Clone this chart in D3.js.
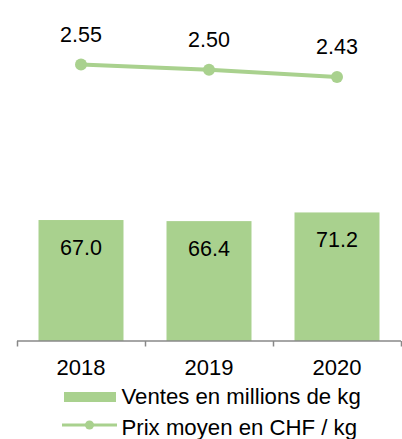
<!DOCTYPE html>
<html><head><meta charset="utf-8">
<script src="https://cdn.jsdelivr.net/npm/d3@7"></script>
<style>html,body{margin:0;padding:0;background:#fff;}svg{display:block;}</style>
</head><body>
<svg id="chart" width="402" height="439"></svg>
<script>
const years = ["2018", "2019", "2020"];
const sales = [67.0, 66.4, 71.2];
const prices = [2.55, 2.50, 2.43];
const salesLabels = ["67.0", "66.4", "71.2"];
const priceLabels = ["2.55", "2.50", "2.43"];
const legendLabels = ["Ventes en millions de kg", "Prix moyen en CHF / kg"];

const green = "#a9d18e";
const font = "'Liberation Sans', Arial, sans-serif";
const svg = d3.select("#chart");

const x = d3.scaleBand().domain(years).range([17, 401]).paddingInner(0.336).paddingOuter(0.168);
const y = d3.scaleLinear().domain([0, 180]).range([341, 16]);
const y2 = d3.scaleLinear().domain([2, 3]).range([121.7, 17.7]);
const cx = d => x(d) + x.bandwidth() / 2;

// bars
svg.selectAll("rect.bar").data(years).join("rect")
  .attr("class", "bar")
  .attr("x", d => x(d)).attr("width", x.bandwidth())
  .attr("y", (d, i) => y(sales[i])).attr("height", (d, i) => y(0) - y(sales[i]))
  .attr("fill", green);

svg.selectAll("text.blab").data(years).join("text")
  .attr("class", "blab")
  .attr("x", cx).attr("y", (d, i) => y(sales[i]) + 34.5)
  .attr("text-anchor", "middle").attr("font-family", font).attr("font-size", 21.5)
  .attr("fill", "#000").text((d, i) => salesLabels[i]);

// axis
const axisG = svg.append("g").attr("transform", "translate(0,341)");
const xAxis = d3.axisBottom(d3.scaleLinear().domain([0, 3]).range([17, 401]))
  .tickValues([0, 1, 2, 3]).tickSize(5.5).tickFormat("");
axisG.call(xAxis);
axisG.select(".domain").attr("stroke", "#888").attr("stroke-width", 1.5).attr("d", "M17,0H401");
axisG.selectAll(".tick line").attr("stroke", "#888").attr("stroke-width", 1.5);

svg.selectAll("text.xlab").data(years).join("text")
  .attr("class", "xlab")
  .attr("x", cx).attr("y", 374.5)
  .attr("text-anchor", "middle").attr("font-family", font).attr("font-size", 22)
  .attr("fill", "#000").text(d => d);

// line
const line = d3.line().x((d, i) => cx(years[i])).y(d => y2(d));
svg.append("path").datum(prices).attr("d", line)
  .attr("fill", "none").attr("stroke", green).attr("stroke-width", 4);
svg.selectAll("circle.pt").data(prices).join("circle")
  .attr("class", "pt")
  .attr("cx", (d, i) => cx(years[i])).attr("cy", d => y2(d)).attr("r", 6)
  .attr("fill", green);
svg.selectAll("text.plab").data(prices).join("text")
  .attr("class", "plab")
  .attr("x", (d, i) => cx(years[i])).attr("y", d => y2(d) - 22.5)
  .attr("text-anchor", "middle").attr("font-family", font).attr("font-size", 21.5)
  .attr("fill", "#000").text((d, i) => priceLabels[i]);

// legend
svg.append("rect").attr("x", 64).attr("y", 392).attr("width", 52).attr("height", 10).attr("fill", green);
svg.append("text").attr("x", 121.5).attr("y", 403.5)
  .attr("font-family", font).attr("font-size", 22.2).attr("fill", "#000").text(legendLabels[0]);
svg.append("line").attr("x1", 62).attr("x2", 117).attr("y1", 425).attr("y2", 425)
  .attr("stroke", green).attr("stroke-width", 3);
svg.append("circle").attr("cx", 89.5).attr("cy", 425).attr("r", 4.5).attr("fill", green);
svg.append("text").attr("x", 121.5).attr("y", 434.5)
  .attr("font-family", font).attr("font-size", 22.2).attr("fill", "#000").text(legendLabels[1]);
</script>
</body></html>
